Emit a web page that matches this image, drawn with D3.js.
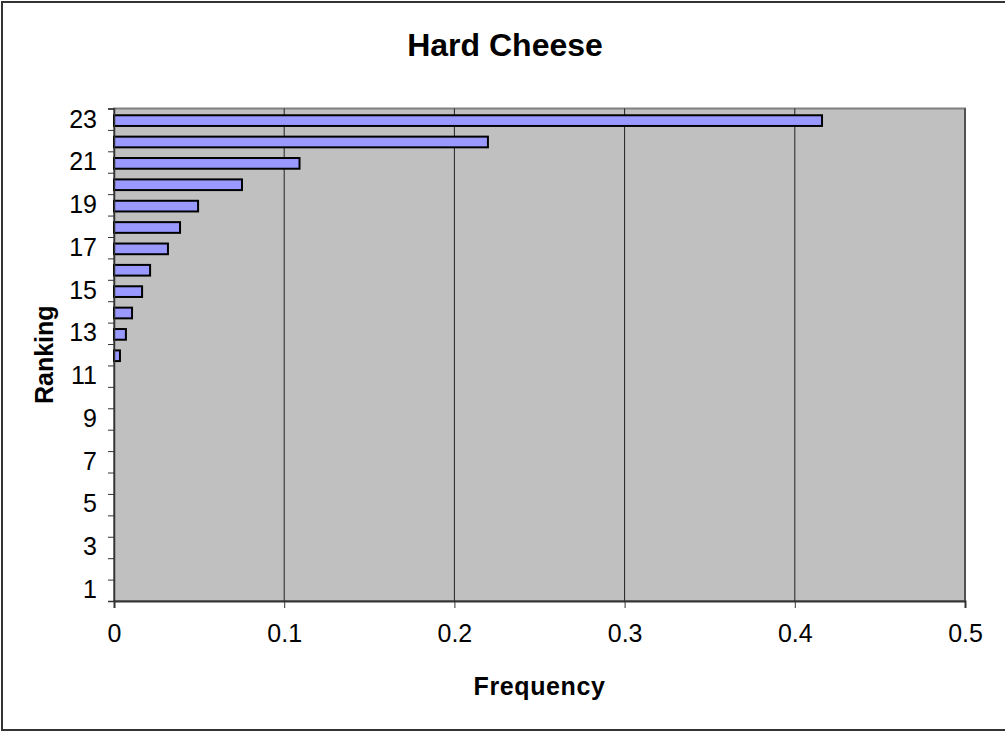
<!DOCTYPE html>
<html>
<head>
<meta charset="utf-8">
<script src="https://cdn.jsdelivr.net/npm/d3@7"></script>
<style>
  html, body { margin: 0; padding: 0; background: #fff; }
  svg { display: block; font-family: Arial, "Liberation Sans", sans-serif; }
</style>
</head>
<body>
<svg id="chart" width="1005" height="732"></svg>
<script>
const categories = ["1","2","3","4","5","6","7","8","9","10","11","12","13","14","15","16","17","18","19","20","21","22","23"];
const frequency = [0,0,0,0,0,0,0,0,0,0,0,0.0035,0.007,0.0106,0.0165,0.0212,0.0317,0.0388,0.0494,0.0752,0.109,0.2197,0.416];
const xTicks = [0, 0.1, 0.2, 0.3, 0.4, 0.5];
const yLabels = ["1","3","5","7","9","11","13","15","17","19","21","23"];
const title = "Hard Cheese";
const xTitle = "Frequency";
const yTitle = "Ranking";

const svg = d3.select("#chart");
const pLeft = 114, pRight = 965, pTop = 108.5, pBottom = 601;

// outer chart border
svg.append("rect").attr("x", 2).attr("y", 2).attr("width", 1010).attr("height", 728)
  .attr("fill", "#fff").attr("stroke", "#333").attr("stroke-width", 2);

const x = d3.scaleLinear().domain([0, 0.5]).range([pLeft, pRight]);
const y = d3.scaleBand().domain(categories.slice().reverse()).range([pTop, pBottom])
  .paddingInner(0.5).paddingOuter(0.27);
const yEdge = d3.scaleLinear().domain([0, categories.length]).range([pBottom, pTop]);

// plot area
svg.append("rect").attr("x", pLeft).attr("y", pTop).attr("width", pRight - pLeft).attr("height", pBottom - pTop)
  .attr("fill", "#C0C0C0").attr("stroke", "#808080").attr("stroke-width", 2);

// gridlines
svg.append("g").selectAll("line").data(xTicks.slice(1)).join("line")
  .attr("x1", d => x(d)).attr("x2", d => x(d)).attr("y1", pTop).attr("y2", pBottom)
  .attr("stroke", "#222").attr("stroke-width", 1);

// bars
svg.append("g").selectAll("rect").data(categories.map((c, i) => ({c, v: frequency[i]})).filter(d => d.v > 0))
  .join("rect")
  .attr("x", x(0)).attr("y", d => y(d.c) + 1)
  .attr("width", d => x(d.v) - x(0)).attr("height", y.bandwidth())
  .attr("fill", "#9999FF").attr("stroke", "#000").attr("stroke-width", 2);

// x axis
const xAxis = svg.append("g").attr("transform", `translate(0,${pBottom})`)
  .call(d3.axisBottom(x).tickValues(xTicks).tickFormat(d3.format("")).tickSize(7).tickPadding(16));
xAxis.select(".domain").attr("stroke", "#333").attr("stroke-width", 2);
xAxis.selectAll(".tick line").attr("stroke", "#333");
xAxis.selectAll("text").attr("font-size", 25).attr("fill", "#000")
  .attr("font-family", "Arial, 'Liberation Sans', sans-serif");

// y axis ticks at category boundaries
const yTickAxis = svg.append("g").attr("transform", `translate(${pLeft},0)`)
  .call(d3.axisLeft(yEdge).tickValues(d3.range(0, categories.length + 1)).tickFormat("").tickSize(6));
yTickAxis.select(".domain").attr("stroke", "#333").attr("stroke-width", 1.5);
yTickAxis.selectAll(".tick line").attr("stroke", "#333");

// y labels at band centers
const yLabelAxis = svg.append("g").attr("transform", `translate(${pLeft},0)`)
  .call(d3.axisLeft(y).tickValues(yLabels).tickSize(0).tickPadding(17));
yLabelAxis.select(".domain").remove();
yLabelAxis.selectAll("text").attr("font-size", 25).attr("fill", "#000")
  .attr("font-family", "Arial, 'Liberation Sans', sans-serif");

// titles
svg.append("text").attr("x", 505).attr("y", 56).attr("text-anchor", "middle")
  .attr("font-size", 32).attr("font-weight", "bold").text(title);
svg.append("text").attr("x", (pLeft + pRight) / 2).attr("y", 695).attr("text-anchor", "middle")
  .attr("font-size", 25).attr("font-weight", "bold").attr("letter-spacing", 0.6).text(xTitle);
svg.append("text").attr("transform", `translate(53,${(pTop + pBottom) / 2}) rotate(-90)`)
  .attr("text-anchor", "middle").attr("font-size", 25).attr("font-weight", "bold").text(yTitle);
</script>
</body>
</html>
